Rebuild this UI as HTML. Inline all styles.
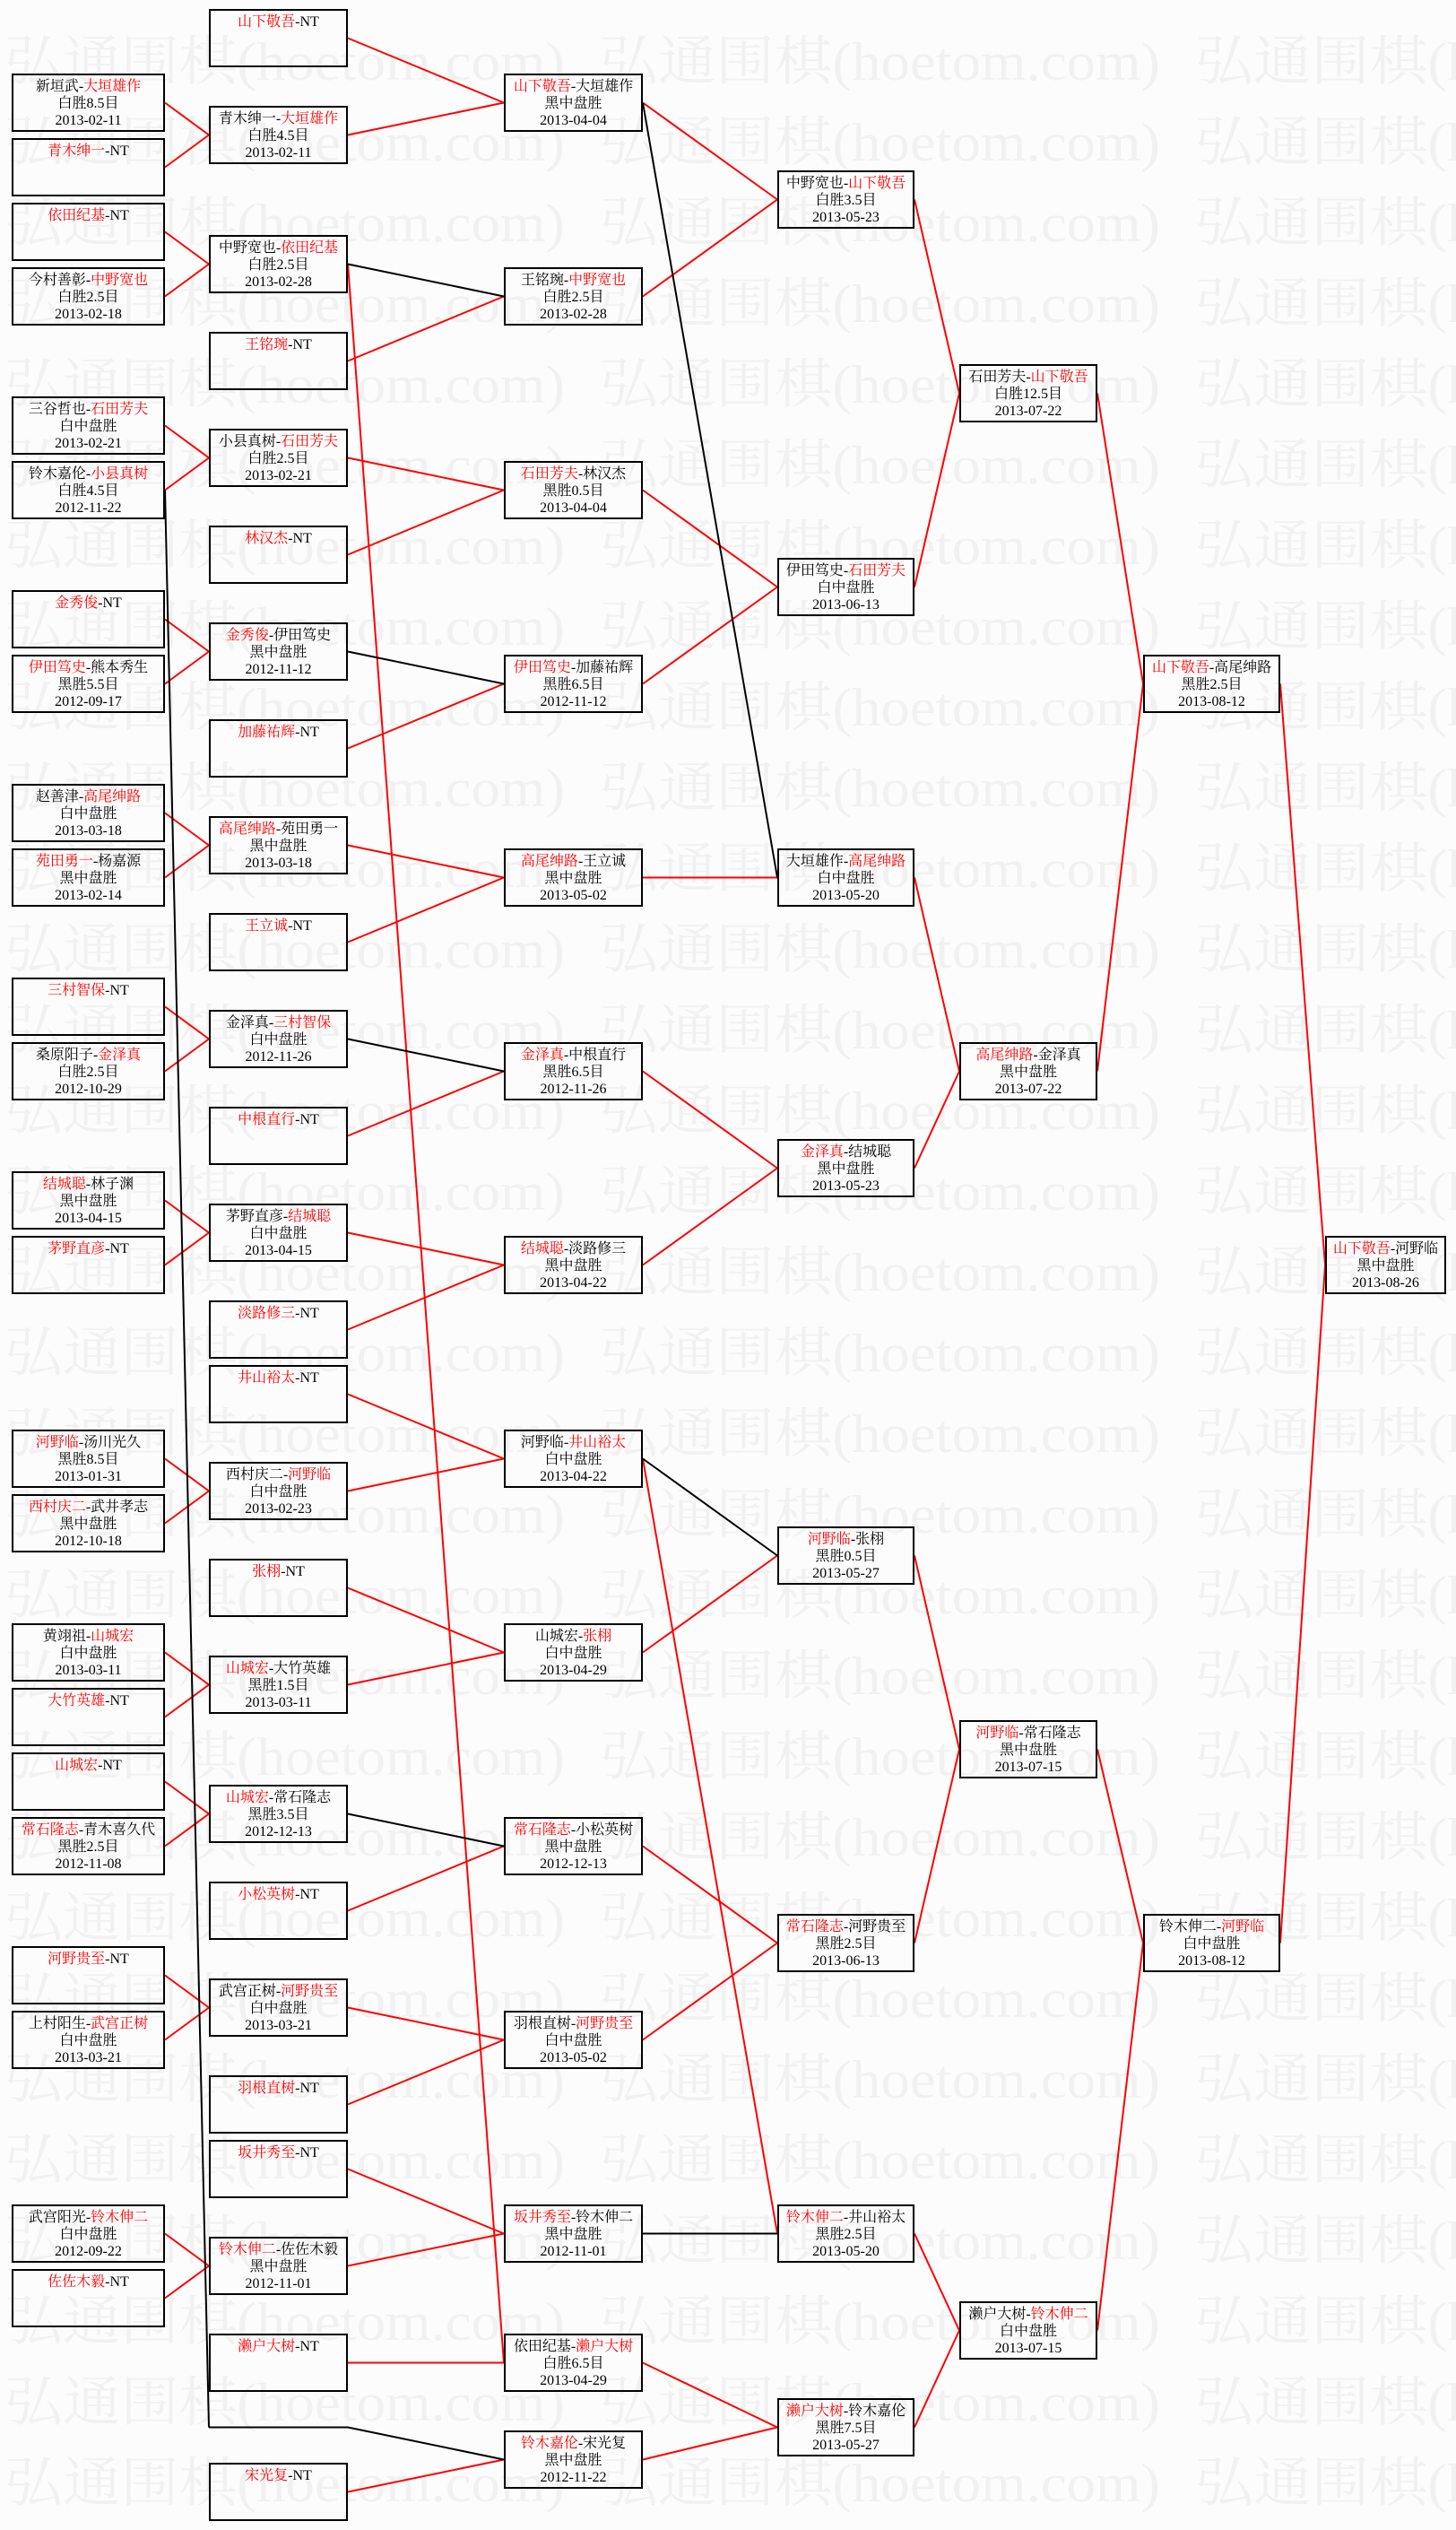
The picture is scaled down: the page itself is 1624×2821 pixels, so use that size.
<!DOCTYPE html>
<html>
<head>
<meta charset="utf-8">
<style>
html,body{margin:0;padding:0;background:#fcfcfc;}
body{width:1624px;height:2821px;position:relative;overflow:hidden;}
svg.layer{position:absolute;left:0;top:0;}
.b{position:absolute;box-sizing:border-box;height:65px;border:2px solid #000;text-align:center;font-family:"Liberation Serif","Noto Serif CJK SC",serif;font-size:16px;line-height:19px;padding-top:3px;color:#000;white-space:nowrap;}
.c0{left:13px;width:171px}
.c1{left:233px;width:155px}
.c2{left:562px;width:155px}
.c3{left:867px;width:153px}
.c4{left:1070px;width:154px}
.c5{left:1275px;width:153px}
.c6{left:1478px;width:135px}
.r{color:#f00}
</style>
</head>
<body>
<svg class="layer" width="1624" height="2821" viewBox="0 0 1624 2821">
<g fill="#f1f1f1" font-family="Liberation Serif, Noto Serif CJK SC, serif" font-size="60">
<text x="5" y="89" textLength="625" lengthAdjust="spacingAndGlyphs">弘通围棋(hoetom.com)</text><text x="669" y="89" textLength="625" lengthAdjust="spacingAndGlyphs">弘通围棋(hoetom.com)</text><text x="1333" y="89" textLength="625" lengthAdjust="spacingAndGlyphs">弘通围棋(hoetom.com)</text>
<text x="5" y="179" textLength="625" lengthAdjust="spacingAndGlyphs">弘通围棋(hoetom.com)</text><text x="669" y="179" textLength="625" lengthAdjust="spacingAndGlyphs">弘通围棋(hoetom.com)</text><text x="1333" y="179" textLength="625" lengthAdjust="spacingAndGlyphs">弘通围棋(hoetom.com)</text>
<text x="5" y="269" textLength="625" lengthAdjust="spacingAndGlyphs">弘通围棋(hoetom.com)</text><text x="669" y="269" textLength="625" lengthAdjust="spacingAndGlyphs">弘通围棋(hoetom.com)</text><text x="1333" y="269" textLength="625" lengthAdjust="spacingAndGlyphs">弘通围棋(hoetom.com)</text>
<text x="5" y="359" textLength="625" lengthAdjust="spacingAndGlyphs">弘通围棋(hoetom.com)</text><text x="669" y="359" textLength="625" lengthAdjust="spacingAndGlyphs">弘通围棋(hoetom.com)</text><text x="1333" y="359" textLength="625" lengthAdjust="spacingAndGlyphs">弘通围棋(hoetom.com)</text>
<text x="5" y="449" textLength="625" lengthAdjust="spacingAndGlyphs">弘通围棋(hoetom.com)</text><text x="669" y="449" textLength="625" lengthAdjust="spacingAndGlyphs">弘通围棋(hoetom.com)</text><text x="1333" y="449" textLength="625" lengthAdjust="spacingAndGlyphs">弘通围棋(hoetom.com)</text>
<text x="5" y="539" textLength="625" lengthAdjust="spacingAndGlyphs">弘通围棋(hoetom.com)</text><text x="669" y="539" textLength="625" lengthAdjust="spacingAndGlyphs">弘通围棋(hoetom.com)</text><text x="1333" y="539" textLength="625" lengthAdjust="spacingAndGlyphs">弘通围棋(hoetom.com)</text>
<text x="5" y="629" textLength="625" lengthAdjust="spacingAndGlyphs">弘通围棋(hoetom.com)</text><text x="669" y="629" textLength="625" lengthAdjust="spacingAndGlyphs">弘通围棋(hoetom.com)</text><text x="1333" y="629" textLength="625" lengthAdjust="spacingAndGlyphs">弘通围棋(hoetom.com)</text>
<text x="5" y="719" textLength="625" lengthAdjust="spacingAndGlyphs">弘通围棋(hoetom.com)</text><text x="669" y="719" textLength="625" lengthAdjust="spacingAndGlyphs">弘通围棋(hoetom.com)</text><text x="1333" y="719" textLength="625" lengthAdjust="spacingAndGlyphs">弘通围棋(hoetom.com)</text>
<text x="5" y="809" textLength="625" lengthAdjust="spacingAndGlyphs">弘通围棋(hoetom.com)</text><text x="669" y="809" textLength="625" lengthAdjust="spacingAndGlyphs">弘通围棋(hoetom.com)</text><text x="1333" y="809" textLength="625" lengthAdjust="spacingAndGlyphs">弘通围棋(hoetom.com)</text>
<text x="5" y="899" textLength="625" lengthAdjust="spacingAndGlyphs">弘通围棋(hoetom.com)</text><text x="669" y="899" textLength="625" lengthAdjust="spacingAndGlyphs">弘通围棋(hoetom.com)</text><text x="1333" y="899" textLength="625" lengthAdjust="spacingAndGlyphs">弘通围棋(hoetom.com)</text>
<text x="5" y="989" textLength="625" lengthAdjust="spacingAndGlyphs">弘通围棋(hoetom.com)</text><text x="669" y="989" textLength="625" lengthAdjust="spacingAndGlyphs">弘通围棋(hoetom.com)</text><text x="1333" y="989" textLength="625" lengthAdjust="spacingAndGlyphs">弘通围棋(hoetom.com)</text>
<text x="5" y="1079" textLength="625" lengthAdjust="spacingAndGlyphs">弘通围棋(hoetom.com)</text><text x="669" y="1079" textLength="625" lengthAdjust="spacingAndGlyphs">弘通围棋(hoetom.com)</text><text x="1333" y="1079" textLength="625" lengthAdjust="spacingAndGlyphs">弘通围棋(hoetom.com)</text>
<text x="5" y="1169" textLength="625" lengthAdjust="spacingAndGlyphs">弘通围棋(hoetom.com)</text><text x="669" y="1169" textLength="625" lengthAdjust="spacingAndGlyphs">弘通围棋(hoetom.com)</text><text x="1333" y="1169" textLength="625" lengthAdjust="spacingAndGlyphs">弘通围棋(hoetom.com)</text>
<text x="5" y="1259" textLength="625" lengthAdjust="spacingAndGlyphs">弘通围棋(hoetom.com)</text><text x="669" y="1259" textLength="625" lengthAdjust="spacingAndGlyphs">弘通围棋(hoetom.com)</text><text x="1333" y="1259" textLength="625" lengthAdjust="spacingAndGlyphs">弘通围棋(hoetom.com)</text>
<text x="5" y="1349" textLength="625" lengthAdjust="spacingAndGlyphs">弘通围棋(hoetom.com)</text><text x="669" y="1349" textLength="625" lengthAdjust="spacingAndGlyphs">弘通围棋(hoetom.com)</text><text x="1333" y="1349" textLength="625" lengthAdjust="spacingAndGlyphs">弘通围棋(hoetom.com)</text>
<text x="5" y="1439" textLength="625" lengthAdjust="spacingAndGlyphs">弘通围棋(hoetom.com)</text><text x="669" y="1439" textLength="625" lengthAdjust="spacingAndGlyphs">弘通围棋(hoetom.com)</text><text x="1333" y="1439" textLength="625" lengthAdjust="spacingAndGlyphs">弘通围棋(hoetom.com)</text>
<text x="5" y="1529" textLength="625" lengthAdjust="spacingAndGlyphs">弘通围棋(hoetom.com)</text><text x="669" y="1529" textLength="625" lengthAdjust="spacingAndGlyphs">弘通围棋(hoetom.com)</text><text x="1333" y="1529" textLength="625" lengthAdjust="spacingAndGlyphs">弘通围棋(hoetom.com)</text>
<text x="5" y="1619" textLength="625" lengthAdjust="spacingAndGlyphs">弘通围棋(hoetom.com)</text><text x="669" y="1619" textLength="625" lengthAdjust="spacingAndGlyphs">弘通围棋(hoetom.com)</text><text x="1333" y="1619" textLength="625" lengthAdjust="spacingAndGlyphs">弘通围棋(hoetom.com)</text>
<text x="5" y="1709" textLength="625" lengthAdjust="spacingAndGlyphs">弘通围棋(hoetom.com)</text><text x="669" y="1709" textLength="625" lengthAdjust="spacingAndGlyphs">弘通围棋(hoetom.com)</text><text x="1333" y="1709" textLength="625" lengthAdjust="spacingAndGlyphs">弘通围棋(hoetom.com)</text>
<text x="5" y="1799" textLength="625" lengthAdjust="spacingAndGlyphs">弘通围棋(hoetom.com)</text><text x="669" y="1799" textLength="625" lengthAdjust="spacingAndGlyphs">弘通围棋(hoetom.com)</text><text x="1333" y="1799" textLength="625" lengthAdjust="spacingAndGlyphs">弘通围棋(hoetom.com)</text>
<text x="5" y="1889" textLength="625" lengthAdjust="spacingAndGlyphs">弘通围棋(hoetom.com)</text><text x="669" y="1889" textLength="625" lengthAdjust="spacingAndGlyphs">弘通围棋(hoetom.com)</text><text x="1333" y="1889" textLength="625" lengthAdjust="spacingAndGlyphs">弘通围棋(hoetom.com)</text>
<text x="5" y="1979" textLength="625" lengthAdjust="spacingAndGlyphs">弘通围棋(hoetom.com)</text><text x="669" y="1979" textLength="625" lengthAdjust="spacingAndGlyphs">弘通围棋(hoetom.com)</text><text x="1333" y="1979" textLength="625" lengthAdjust="spacingAndGlyphs">弘通围棋(hoetom.com)</text>
<text x="5" y="2069" textLength="625" lengthAdjust="spacingAndGlyphs">弘通围棋(hoetom.com)</text><text x="669" y="2069" textLength="625" lengthAdjust="spacingAndGlyphs">弘通围棋(hoetom.com)</text><text x="1333" y="2069" textLength="625" lengthAdjust="spacingAndGlyphs">弘通围棋(hoetom.com)</text>
<text x="5" y="2159" textLength="625" lengthAdjust="spacingAndGlyphs">弘通围棋(hoetom.com)</text><text x="669" y="2159" textLength="625" lengthAdjust="spacingAndGlyphs">弘通围棋(hoetom.com)</text><text x="1333" y="2159" textLength="625" lengthAdjust="spacingAndGlyphs">弘通围棋(hoetom.com)</text>
<text x="5" y="2249" textLength="625" lengthAdjust="spacingAndGlyphs">弘通围棋(hoetom.com)</text><text x="669" y="2249" textLength="625" lengthAdjust="spacingAndGlyphs">弘通围棋(hoetom.com)</text><text x="1333" y="2249" textLength="625" lengthAdjust="spacingAndGlyphs">弘通围棋(hoetom.com)</text>
<text x="5" y="2339" textLength="625" lengthAdjust="spacingAndGlyphs">弘通围棋(hoetom.com)</text><text x="669" y="2339" textLength="625" lengthAdjust="spacingAndGlyphs">弘通围棋(hoetom.com)</text><text x="1333" y="2339" textLength="625" lengthAdjust="spacingAndGlyphs">弘通围棋(hoetom.com)</text>
<text x="5" y="2429" textLength="625" lengthAdjust="spacingAndGlyphs">弘通围棋(hoetom.com)</text><text x="669" y="2429" textLength="625" lengthAdjust="spacingAndGlyphs">弘通围棋(hoetom.com)</text><text x="1333" y="2429" textLength="625" lengthAdjust="spacingAndGlyphs">弘通围棋(hoetom.com)</text>
<text x="5" y="2519" textLength="625" lengthAdjust="spacingAndGlyphs">弘通围棋(hoetom.com)</text><text x="669" y="2519" textLength="625" lengthAdjust="spacingAndGlyphs">弘通围棋(hoetom.com)</text><text x="1333" y="2519" textLength="625" lengthAdjust="spacingAndGlyphs">弘通围棋(hoetom.com)</text>
<text x="5" y="2609" textLength="625" lengthAdjust="spacingAndGlyphs">弘通围棋(hoetom.com)</text><text x="669" y="2609" textLength="625" lengthAdjust="spacingAndGlyphs">弘通围棋(hoetom.com)</text><text x="1333" y="2609" textLength="625" lengthAdjust="spacingAndGlyphs">弘通围棋(hoetom.com)</text>
<text x="5" y="2699" textLength="625" lengthAdjust="spacingAndGlyphs">弘通围棋(hoetom.com)</text><text x="669" y="2699" textLength="625" lengthAdjust="spacingAndGlyphs">弘通围棋(hoetom.com)</text><text x="1333" y="2699" textLength="625" lengthAdjust="spacingAndGlyphs">弘通围棋(hoetom.com)</text>
<text x="5" y="2789" textLength="625" lengthAdjust="spacingAndGlyphs">弘通围棋(hoetom.com)</text><text x="669" y="2789" textLength="625" lengthAdjust="spacingAndGlyphs">弘通围棋(hoetom.com)</text><text x="1333" y="2789" textLength="625" lengthAdjust="spacingAndGlyphs">弘通围棋(hoetom.com)</text>
</g>
</svg>

<svg class="layer" width="1624" height="2821" viewBox="0 0 1624 2821">
<g stroke="#f00" stroke-width="2" fill="none">
<line x1="184" y1="114.5" x2="233" y2="150.5"/>
<line x1="184" y1="186.5" x2="233" y2="150.5"/>
<line x1="184" y1="258.5" x2="233" y2="294.5"/>
<line x1="184" y1="330.5" x2="233" y2="294.5"/>
<line x1="184" y1="474.5" x2="233" y2="510.5"/>
<line x1="184" y1="546.5" x2="233" y2="510.5"/>
<line x1="184" y1="690.5" x2="233" y2="726.5"/>
<line x1="184" y1="762.5" x2="233" y2="726.5"/>
<line x1="184" y1="906.5" x2="233" y2="942.5"/>
<line x1="184" y1="978.5" x2="233" y2="942.5"/>
<line x1="184" y1="1122.5" x2="233" y2="1158.5"/>
<line x1="184" y1="1194.5" x2="233" y2="1158.5"/>
<line x1="184" y1="1338.5" x2="233" y2="1374.5"/>
<line x1="184" y1="1410.5" x2="233" y2="1374.5"/>
<line x1="184" y1="1626.5" x2="233" y2="1662.5"/>
<line x1="184" y1="1698.5" x2="233" y2="1662.5"/>
<line x1="184" y1="1842.5" x2="233" y2="1878.5"/>
<line x1="184" y1="1914.5" x2="233" y2="1878.5"/>
<line x1="184" y1="1986.5" x2="233" y2="2022.5"/>
<line x1="184" y1="2058.5" x2="233" y2="2022.5"/>
<line x1="184" y1="2202.5" x2="233" y2="2238.5"/>
<line x1="184" y1="2274.5" x2="233" y2="2238.5"/>
<line x1="184" y1="2490.5" x2="233" y2="2526.5"/>
<line x1="184" y1="2562.5" x2="233" y2="2526.5"/>
<line x1="388" y1="42.5" x2="562" y2="114.5"/>
<line x1="388" y1="150.5" x2="562" y2="114.5"/>
<line x1="388" y1="402.5" x2="562" y2="330.5"/>
<line x1="388" y1="510.5" x2="562" y2="546.5"/>
<line x1="388" y1="618.5" x2="562" y2="546.5"/>
<line x1="388" y1="834.5" x2="562" y2="762.5"/>
<line x1="388" y1="942.5" x2="562" y2="978.5"/>
<line x1="388" y1="1050.5" x2="562" y2="978.5"/>
<line x1="388" y1="1266.5" x2="562" y2="1194.5"/>
<line x1="388" y1="1374.5" x2="562" y2="1410.5"/>
<line x1="388" y1="1482.5" x2="562" y2="1410.5"/>
<line x1="388" y1="1554.5" x2="562" y2="1626.5"/>
<line x1="388" y1="1662.5" x2="562" y2="1626.5"/>
<line x1="388" y1="1770.5" x2="562" y2="1842.5"/>
<line x1="388" y1="1878.5" x2="562" y2="1842.5"/>
<line x1="388" y1="2130.5" x2="562" y2="2058.5"/>
<line x1="388" y1="2238.5" x2="562" y2="2274.5"/>
<line x1="388" y1="2346.5" x2="562" y2="2274.5"/>
<line x1="388" y1="2418.5" x2="562" y2="2490.5"/>
<line x1="388" y1="2526.5" x2="562" y2="2490.5"/>
<line x1="388" y1="294.5" x2="562" y2="2634.5"/>
<line x1="388" y1="2634.5" x2="562" y2="2634.5"/>
<line x1="388" y1="2778.5" x2="562" y2="2742.5"/>
<line x1="717" y1="114.5" x2="867" y2="222.5"/>
<line x1="717" y1="330.5" x2="867" y2="222.5"/>
<line x1="717" y1="546.5" x2="867" y2="654.5"/>
<line x1="717" y1="762.5" x2="867" y2="654.5"/>
<line x1="717" y1="978.5" x2="867" y2="978.5"/>
<line x1="717" y1="1194.5" x2="867" y2="1302.5"/>
<line x1="717" y1="1410.5" x2="867" y2="1302.5"/>
<line x1="717" y1="1842.5" x2="867" y2="1734.5"/>
<line x1="717" y1="2058.5" x2="867" y2="2166.5"/>
<line x1="717" y1="2274.5" x2="867" y2="2166.5"/>
<line x1="717" y1="1626.5" x2="867" y2="2490.5"/>
<line x1="717" y1="2634.5" x2="867" y2="2706.5"/>
<line x1="717" y1="2742.5" x2="867" y2="2706.5"/>
<line x1="1020" y1="222.5" x2="1070" y2="438.5"/>
<line x1="1020" y1="654.5" x2="1070" y2="438.5"/>
<line x1="1020" y1="978.5" x2="1070" y2="1194.5"/>
<line x1="1020" y1="1302.5" x2="1070" y2="1194.5"/>
<line x1="1020" y1="1734.5" x2="1070" y2="1950.5"/>
<line x1="1020" y1="2166.5" x2="1070" y2="1950.5"/>
<line x1="1020" y1="2490.5" x2="1070" y2="2598.5"/>
<line x1="1020" y1="2706.5" x2="1070" y2="2598.5"/>
<line x1="1224" y1="438.5" x2="1275" y2="762.5"/>
<line x1="1224" y1="1194.5" x2="1275" y2="762.5"/>
<line x1="1224" y1="1950.5" x2="1275" y2="2166.5"/>
<line x1="1224" y1="2598.5" x2="1275" y2="2166.5"/>
<line x1="1428" y1="762.5" x2="1478" y2="1410.5"/>
<line x1="1428" y1="2166.5" x2="1478" y2="1410.5"/>
</g>
<g stroke="#000" stroke-width="2" fill="none">
<line x1="184" y1="546.5" x2="233" y2="2706.5"/>
<line x1="233" y1="2706.5" x2="388" y2="2706.5"/>
<line x1="388" y1="2706.5" x2="562" y2="2742.5"/>
<line x1="388" y1="294.5" x2="562" y2="330.5"/>
<line x1="388" y1="726.5" x2="562" y2="762.5"/>
<line x1="388" y1="1158.5" x2="562" y2="1194.5"/>
<line x1="388" y1="2022.5" x2="562" y2="2058.5"/>
<line x1="717" y1="114.5" x2="867" y2="978.5"/>
<line x1="717" y1="1626.5" x2="867" y2="1734.5"/>
<line x1="717" y1="2490.5" x2="867" y2="2490.5"/>
</g>
</svg>

<div class="b c0" style="top:82px">新垣武-<span class="r">大垣雄作</span><br>白胜8.5目<br>2013-02-11</div>
<div class="b c0" style="top:154px"><span class="r">青木绅一</span>-NT</div>
<div class="b c0" style="top:226px"><span class="r">依田纪基</span>-NT</div>
<div class="b c0" style="top:298px">今村善彰-<span class="r">中野宽也</span><br>白胜2.5目<br>2013-02-18</div>
<div class="b c0" style="top:442px">三谷哲也-<span class="r">石田芳夫</span><br>白中盘胜<br>2013-02-21</div>
<div class="b c0" style="top:514px">铃木嘉伦-<span class="r">小县真树</span><br>白胜4.5目<br>2012-11-22</div>
<div class="b c0" style="top:658px"><span class="r">金秀俊</span>-NT</div>
<div class="b c0" style="top:730px"><span class="r">伊田笃史</span>-熊本秀生<br>黑胜5.5目<br>2012-09-17</div>
<div class="b c0" style="top:874px">赵善津-<span class="r">高尾绅路</span><br>白中盘胜<br>2013-03-18</div>
<div class="b c0" style="top:946px"><span class="r">苑田勇一</span>-杨嘉源<br>黑中盘胜<br>2013-02-14</div>
<div class="b c0" style="top:1090px"><span class="r">三村智保</span>-NT</div>
<div class="b c0" style="top:1162px">桑原阳子-<span class="r">金泽真</span><br>白胜2.5目<br>2012-10-29</div>
<div class="b c0" style="top:1306px"><span class="r">结城聪</span>-林子渊<br>黑中盘胜<br>2013-04-15</div>
<div class="b c0" style="top:1378px"><span class="r">茅野直彦</span>-NT</div>
<div class="b c0" style="top:1594px"><span class="r">河野临</span>-汤川光久<br>黑胜8.5目<br>2013-01-31</div>
<div class="b c0" style="top:1666px"><span class="r">西村庆二</span>-武井孝志<br>黑中盘胜<br>2012-10-18</div>
<div class="b c0" style="top:1810px">黄翊祖-<span class="r">山城宏</span><br>白中盘胜<br>2013-03-11</div>
<div class="b c0" style="top:1882px"><span class="r">大竹英雄</span>-NT</div>
<div class="b c0" style="top:1954px"><span class="r">山城宏</span>-NT</div>
<div class="b c0" style="top:2026px"><span class="r">常石隆志</span>-青木喜久代<br>黑胜2.5目<br>2012-11-08</div>
<div class="b c0" style="top:2170px"><span class="r">河野贵至</span>-NT</div>
<div class="b c0" style="top:2242px">上村阳生-<span class="r">武宫正树</span><br>白中盘胜<br>2013-03-21</div>
<div class="b c0" style="top:2458px">武宫阳光-<span class="r">铃木伸二</span><br>白中盘胜<br>2012-09-22</div>
<div class="b c0" style="top:2530px"><span class="r">佐佐木毅</span>-NT</div>

<div class="b c1" style="top:10px"><span class="r">山下敬吾</span>-NT</div>
<div class="b c1" style="top:118px">青木绅一-<span class="r">大垣雄作</span><br>白胜4.5目<br>2013-02-11</div>
<div class="b c1" style="top:262px">中野宽也-<span class="r">依田纪基</span><br>白胜2.5目<br>2013-02-28</div>
<div class="b c1" style="top:370px"><span class="r">王铭琬</span>-NT</div>
<div class="b c1" style="top:478px">小县真树-<span class="r">石田芳夫</span><br>白胜2.5目<br>2013-02-21</div>
<div class="b c1" style="top:586px"><span class="r">林汉杰</span>-NT</div>
<div class="b c1" style="top:694px"><span class="r">金秀俊</span>-伊田笃史<br>黑中盘胜<br>2012-11-12</div>
<div class="b c1" style="top:802px"><span class="r">加藤祐辉</span>-NT</div>
<div class="b c1" style="top:910px"><span class="r">高尾绅路</span>-苑田勇一<br>黑中盘胜<br>2013-03-18</div>
<div class="b c1" style="top:1018px"><span class="r">王立诚</span>-NT</div>
<div class="b c1" style="top:1126px">金泽真-<span class="r">三村智保</span><br>白中盘胜<br>2012-11-26</div>
<div class="b c1" style="top:1234px"><span class="r">中根直行</span>-NT</div>
<div class="b c1" style="top:1342px">茅野直彦-<span class="r">结城聪</span><br>白中盘胜<br>2013-04-15</div>
<div class="b c1" style="top:1450px"><span class="r">淡路修三</span>-NT</div>
<div class="b c1" style="top:1522px"><span class="r">井山裕太</span>-NT</div>
<div class="b c1" style="top:1630px">西村庆二-<span class="r">河野临</span><br>白中盘胜<br>2013-02-23</div>
<div class="b c1" style="top:1738px"><span class="r">张栩</span>-NT</div>
<div class="b c1" style="top:1846px"><span class="r">山城宏</span>-大竹英雄<br>黑胜1.5目<br>2013-03-11</div>
<div class="b c1" style="top:1990px"><span class="r">山城宏</span>-常石隆志<br>黑胜3.5目<br>2012-12-13</div>
<div class="b c1" style="top:2098px"><span class="r">小松英树</span>-NT</div>
<div class="b c1" style="top:2206px">武宫正树-<span class="r">河野贵至</span><br>白中盘胜<br>2013-03-21</div>
<div class="b c1" style="top:2314px"><span class="r">羽根直树</span>-NT</div>
<div class="b c1" style="top:2386px"><span class="r">坂井秀至</span>-NT</div>
<div class="b c1" style="top:2494px"><span class="r">铃木伸二</span>-佐佐木毅<br>黑中盘胜<br>2012-11-01</div>
<div class="b c1" style="top:2602px"><span class="r">濑户大树</span>-NT</div>
<div class="b c1" style="top:2746px"><span class="r">宋光复</span>-NT</div>

<div class="b c2" style="top:82px"><span class="r">山下敬吾</span>-大垣雄作<br>黑中盘胜<br>2013-04-04</div>
<div class="b c2" style="top:298px">王铭琬-<span class="r">中野宽也</span><br>白胜2.5目<br>2013-02-28</div>
<div class="b c2" style="top:514px"><span class="r">石田芳夫</span>-林汉杰<br>黑胜0.5目<br>2013-04-04</div>
<div class="b c2" style="top:730px"><span class="r">伊田笃史</span>-加藤祐辉<br>黑胜6.5目<br>2012-11-12</div>
<div class="b c2" style="top:946px"><span class="r">高尾绅路</span>-王立诚<br>黑中盘胜<br>2013-05-02</div>
<div class="b c2" style="top:1162px"><span class="r">金泽真</span>-中根直行<br>黑胜6.5目<br>2012-11-26</div>
<div class="b c2" style="top:1378px"><span class="r">结城聪</span>-淡路修三<br>黑中盘胜<br>2013-04-22</div>
<div class="b c2" style="top:1594px">河野临-<span class="r">井山裕太</span><br>白中盘胜<br>2013-04-22</div>
<div class="b c2" style="top:1810px">山城宏-<span class="r">张栩</span><br>白中盘胜<br>2013-04-29</div>
<div class="b c2" style="top:2026px"><span class="r">常石隆志</span>-小松英树<br>黑中盘胜<br>2012-12-13</div>
<div class="b c2" style="top:2242px">羽根直树-<span class="r">河野贵至</span><br>白中盘胜<br>2013-05-02</div>
<div class="b c2" style="top:2458px"><span class="r">坂井秀至</span>-铃木伸二<br>黑中盘胜<br>2012-11-01</div>
<div class="b c2" style="top:2602px">依田纪基-<span class="r">濑户大树</span><br>白胜6.5目<br>2013-04-29</div>
<div class="b c2" style="top:2710px"><span class="r">铃木嘉伦</span>-宋光复<br>黑中盘胜<br>2012-11-22</div>

<div class="b c3" style="top:190px">中野宽也-<span class="r">山下敬吾</span><br>白胜3.5目<br>2013-05-23</div>
<div class="b c3" style="top:622px">伊田笃史-<span class="r">石田芳夫</span><br>白中盘胜<br>2013-06-13</div>
<div class="b c3" style="top:946px">大垣雄作-<span class="r">高尾绅路</span><br>白中盘胜<br>2013-05-20</div>
<div class="b c3" style="top:1270px"><span class="r">金泽真</span>-结城聪<br>黑中盘胜<br>2013-05-23</div>
<div class="b c3" style="top:1702px"><span class="r">河野临</span>-张栩<br>黑胜0.5目<br>2013-05-27</div>
<div class="b c3" style="top:2134px"><span class="r">常石隆志</span>-河野贵至<br>黑胜2.5目<br>2013-06-13</div>
<div class="b c3" style="top:2458px"><span class="r">铃木伸二</span>-井山裕太<br>黑胜2.5目<br>2013-05-20</div>
<div class="b c3" style="top:2674px"><span class="r">濑户大树</span>-铃木嘉伦<br>黑胜7.5目<br>2013-05-27</div>

<div class="b c4" style="top:406px">石田芳夫-<span class="r">山下敬吾</span><br>白胜12.5目<br>2013-07-22</div>
<div class="b c4" style="top:1162px"><span class="r">高尾绅路</span>-金泽真<br>黑中盘胜<br>2013-07-22</div>
<div class="b c4" style="top:1918px"><span class="r">河野临</span>-常石隆志<br>黑中盘胜<br>2013-07-15</div>
<div class="b c4" style="top:2566px">濑户大树-<span class="r">铃木伸二</span><br>白中盘胜<br>2013-07-15</div>

<div class="b c5" style="top:730px"><span class="r">山下敬吾</span>-高尾绅路<br>黑胜2.5目<br>2013-08-12</div>
<div class="b c5" style="top:2134px">铃木伸二-<span class="r">河野临</span><br>白中盘胜<br>2013-08-12</div>

<div class="b c6" style="top:1378px"><span class="r">山下敬吾</span>-河野临<br>黑中盘胜<br>2013-08-26</div>
</body>
</html>
